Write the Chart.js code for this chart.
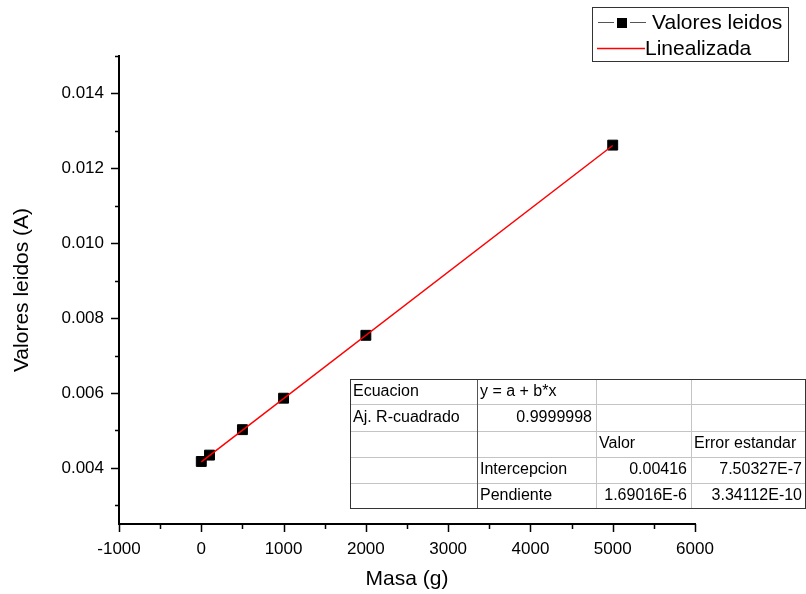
<!DOCTYPE html>
<html>
<head>
<meta charset="utf-8">
<script src="https://cdn.jsdelivr.net/npm/chart.js@4/dist/chart.umd.min.js"></script>
<style>
	body { margin: 0; background: #fff; }
	canvas { display: block; }
</style>
</head>
<body>
<canvas id="chart" width="806" height="594"></canvas>
<script>
// datos leidos
const masa = [0, 100, 500, 1000, 2000, 5000];
const valoresLeidos = [0.00417, 0.00434, 0.00502, 0.00586, 0.00754, 0.01262];
// recta de ajuste
const ajusteX = [0, 5000];
const ajusteY = [0.00416, 0.01261];

const xMajor = [-1000, 0, 1000, 2000, 3000, 4000, 5000, 6000];
const xMinor = [-500, 500, 1500, 2500, 3500, 4500, 5500];
const yMajor = [0.004, 0.006, 0.008, 0.01, 0.012, 0.014];
const yMinor = [0.003, 0.005, 0.007, 0.009, 0.011, 0.013, 0.015];

const tabla = [
	["Ecuacion", "y = a + b*x", "", ""],
	["Aj. R-cuadrado", "0.9999998", "", ""],
	["", "", "Valor", "Error estandar"],
	["", "Intercepcion", "0.00416", "7.50327E-7"],
	["", "Pendiente", "1.69016E-6", "3.34112E-10"],
];
const tablaAlign = [
	["left", "left", "left", "left"],
	["left", "right", "left", "left"],
	["left", "left", "left", "left"],
	["left", "left", "right", "right"],
	["left", "left", "right", "right"],
];

const FONT = "'Liberation Sans', Arial, sans-serif";
Chart.defaults.font.family = FONT;
Chart.defaults.color = "#000";

// marcas de los ejes (mayores y menores)
const marcas = {
	id: "marcas",
	afterDraw(chart) {
		const ctx = chart.ctx;
		const xs = chart.scales.x;
		const ys = chart.scales.y;
		const a = chart.chartArea;
		ctx.save();
		ctx.strokeStyle = "#000";
		ctx.lineWidth = 1.5;
		ctx.beginPath();
		yMajor.forEach((v) => {
			const p = Math.round(ys.getPixelForValue(v)) + 0.5;
			ctx.moveTo(a.left, p);
			ctx.lineTo(a.left - 8, p);
		});
		yMinor.forEach((v) => {
			const p = Math.round(ys.getPixelForValue(v)) + 0.5;
			ctx.moveTo(a.left, p);
			ctx.lineTo(a.left - 4, p);
		});
		xMajor.forEach((v) => {
			const p = Math.round(xs.getPixelForValue(v)) + 0.5;
			ctx.moveTo(p, a.bottom);
			ctx.lineTo(p, a.bottom + 8);
		});
		xMinor.forEach((v) => {
			const p = Math.round(xs.getPixelForValue(v)) + 0.5;
			ctx.moveTo(p, a.bottom);
			ctx.lineTo(p, a.bottom + 5);
		});
		ctx.stroke();
		ctx.restore();
	},
};

// leyenda y tabla del ajuste
const extras = {
	id: "extras",
	afterDraw(chart) {
		const ctx = chart.ctx;
		ctx.save();

		// leyenda
		ctx.fillStyle = "#fff";
		ctx.fillRect(592, 7, 196, 54);
		ctx.strokeStyle = "#333";
		ctx.lineWidth = 1;
		ctx.strokeRect(592.5, 7.5, 196, 54);
		ctx.strokeStyle = "#555";
		ctx.beginPath();
		ctx.moveTo(598, 22.5);
		ctx.lineTo(614, 22.5);
		ctx.moveTo(630, 22.5);
		ctx.lineTo(646, 22.5);
		ctx.stroke();
		ctx.fillStyle = "#000";
		ctx.fillRect(617, 18, 10, 10);
		ctx.strokeStyle = "red";
		ctx.lineWidth = 1.5;
		ctx.beginPath();
		ctx.moveTo(597, 48.5);
		ctx.lineTo(645, 48.5);
		ctx.stroke();
		ctx.font = "21px " + FONT;
		ctx.textBaseline = "middle";
		ctx.textAlign = "left";
		ctx.fillText("Valores leidos", 652, 23);
		ctx.fillText("Linealizada", 645, 49);

		// tabla
		const colX = [350, 477, 596, 691, 806];
		const rowY = [379, 404, 431, 457, 483, 509];
		ctx.fillStyle = "#fff";
		ctx.fillRect(350, 379, 456, 130);
		ctx.lineWidth = 1;
		ctx.strokeStyle = "#c4c4c4";
		ctx.beginPath();
		for (let i = 1; i < rowY.length - 1; i++) {
			ctx.moveTo(350, rowY[i] + 0.5);
			ctx.lineTo(806, rowY[i] + 0.5);
		}
		ctx.moveTo(colX[2] + 0.5, 379);
		ctx.lineTo(colX[2] + 0.5, 509);
		ctx.moveTo(colX[3] + 0.5, 379);
		ctx.lineTo(colX[3] + 0.5, 509);
		ctx.stroke();
		ctx.strokeStyle = "#555";
		ctx.beginPath();
		ctx.moveTo(colX[1] + 0.5, 379);
		ctx.lineTo(colX[1] + 0.5, 509);
		ctx.stroke();
		ctx.strokeStyle = "#333";
		ctx.strokeRect(350.5, 379.5, 455, 129);

		ctx.fillStyle = "#000";
		ctx.font = "16px " + FONT;
		ctx.textBaseline = "middle";
		tabla.forEach((fila, r) => {
			const cy = (rowY[r] + rowY[r + 1]) / 2;
			fila.forEach((txt, c) => {
				if (!txt) return;
				const al = tablaAlign[r][c];
				ctx.textAlign = al;
				const tx = al === "right" ? colX[c + 1] - 4 : colX[c] + 3;
				ctx.fillText(txt, tx, cy);
			});
		});
		ctx.restore();
	},
};

const ctxChart = document.getElementById("chart").getContext("2d");
const chart = new Chart(ctxChart, {
	type: "scatter",
	data: {
		datasets: [
			{
				label: "Linealizada",
				data: ajusteX.map((x, i) => ({ x: x, y: ajusteY[i] })),
				showLine: true,
				borderColor: "red",
				borderWidth: 1.5,
				pointRadius: 0,
				order: 0,
			},
			{
				label: "Valores leidos",
				data: masa.map((x, i) => ({ x: x, y: valoresLeidos[i] })),
				showLine: false,
				pointStyle: "rect",
				pointRadius: 7,
				backgroundColor: "#000",
				borderColor: "#000",
				borderWidth: 1,
				order: 1,
			},
		],
	},
	options: {
		responsive: false,
		animation: false,
		layout: {
			padding: { top: 56, right: 111, left: 0, bottom: 0 },
		},
		plugins: {
			legend: { display: false },
			tooltip: { enabled: false },
		},
		scales: {
			x: {
				type: "linear",
				min: -1000,
				max: 6000,
				afterFit: (s) => {
					s.height = 70;
				},
				afterBuildTicks: (s) => {
					s.ticks = xMajor.map((v) => ({ value: v }));
				},
				grid: { display: true, drawOnChartArea: false, drawTicks: false },
				border: { display: true, color: "#000", width: 2 },
				ticks: {
					padding: 15,
					font: { size: 17 },
					maxRotation: 0,
					callback: (v) => String(v),
				},
				title: {
					display: true,
					text: "Masa (g)",
					font: { size: 21 },
					padding: { top: 0, bottom: 2 },
				},
			},
			y: {
				type: "linear",
				min: 0.0025,
				max: 0.015,
				afterFit: (s) => {
					s.width = 119;
				},
				afterBuildTicks: (s) => {
					s.ticks = yMajor.map((v) => ({ value: v }));
				},
				grid: { display: true, drawOnChartArea: false, drawTicks: false },
				border: { display: true, color: "#000", width: 2 },
				ticks: {
					padding: 15,
					font: { size: 17 },
					callback: (v) => v.toFixed(3),
				},
				title: {
					display: true,
					text: "Valores leidos (A)",
					font: { size: 21 },
					padding: { top: 10, bottom: 0 },
				},
			},
		},
	},
	plugins: [marcas, extras],
});
</script>
</body>
</html>
